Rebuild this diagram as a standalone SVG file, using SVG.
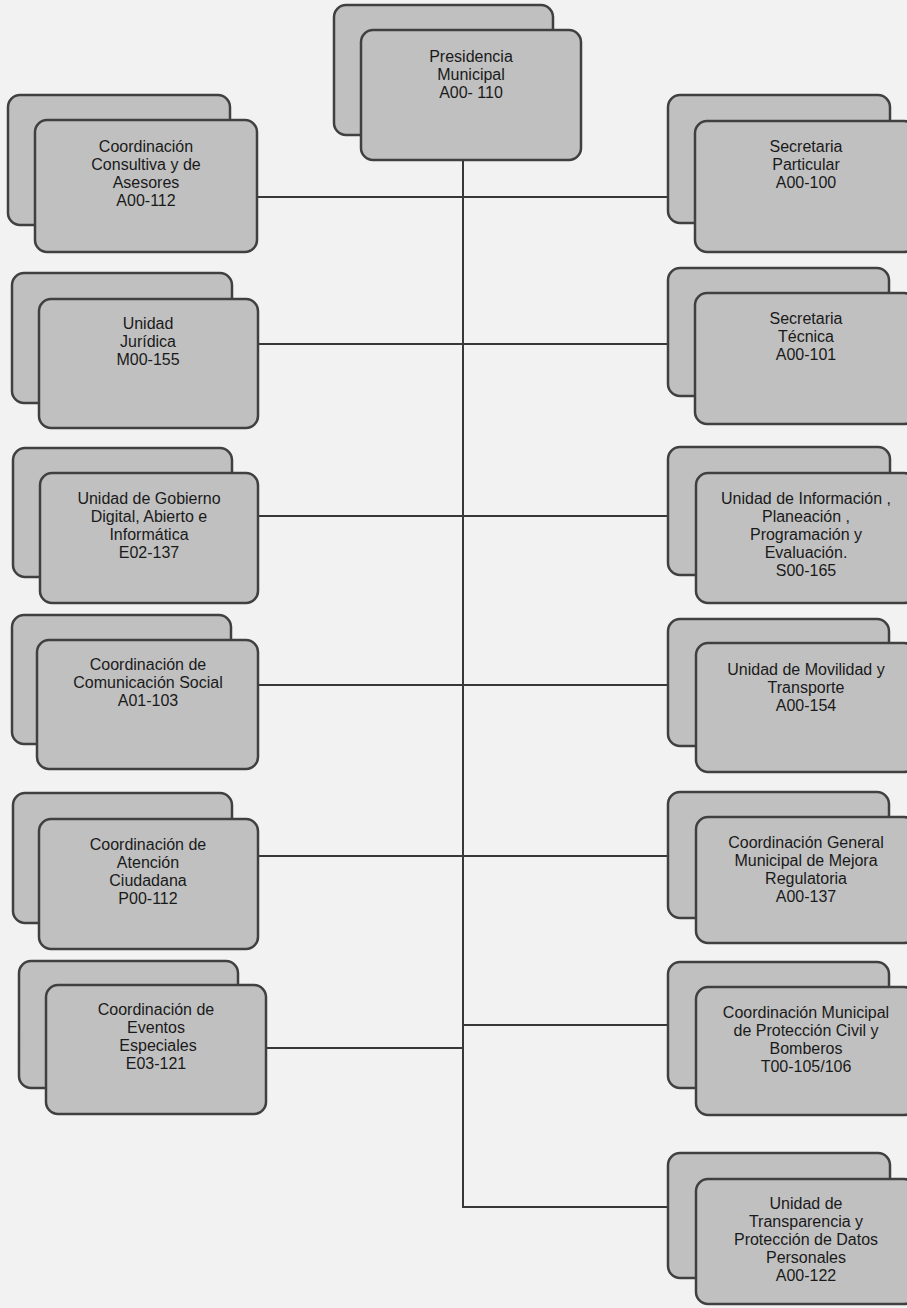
<svg xmlns="http://www.w3.org/2000/svg" width="907" height="1308" viewBox="0 0 907 1308">
<style>
.bg{fill:#f2f2f2}
.box{fill:#c0c0c0;stroke:#404040;stroke-width:2.5}
.ln{stroke:#383838;stroke-width:2;fill:none}
text{font-family:"Liberation Sans",Arial,sans-serif;font-size:16px;fill:#1a1a1a;text-anchor:middle}
</style>
<rect class="bg" x="0" y="0" width="907" height="1308"/>
<g id="connectors">
<path class="ln" d="M463,160 V1207 H668"/>
<path class="ln" d="M257,197 H668"/>
<path class="ln" d="M258,344 H668"/>
<path class="ln" d="M258,516 H668"/>
<path class="ln" d="M258,685 H668"/>
<path class="ln" d="M258,856 H668"/>
<path class="ln" d="M266,1048 H463"/>
<path class="ln" d="M463,1025 H668"/>
</g>
<g id="presidencia">
<rect class="box" x="334" y="5" width="219" height="130" rx="12"/>
<rect class="box" x="361" y="30" width="220" height="130" rx="12"/>
<text x="471" y="62">Presidencia</text><text x="471" y="80">Municipal</text><text x="471" y="98">A00- 110</text>
</g>
<g id="consultiva">
<rect class="box" x="8" y="95" width="222" height="130" rx="12"/>
<rect class="box" x="35" y="120" width="222" height="132" rx="12"/>
<text x="146" y="152">Coordinación</text><text x="146" y="170">Consultiva y de</text><text x="146" y="188">Asesores</text><text x="146" y="206">A00-112</text>
</g>
<g id="juridica">
<rect class="box" x="12" y="273" width="220" height="130" rx="12"/>
<rect class="box" x="39" y="299" width="219" height="129" rx="12"/>
<text x="148" y="329">Unidad</text><text x="148" y="347">Jurídica</text><text x="148" y="365">M00-155</text>
</g>
<g id="gobierno">
<rect class="box" x="13" y="448" width="219" height="129" rx="12"/>
<rect class="box" x="40" y="473" width="218" height="130" rx="12"/>
<text x="149" y="504">Unidad de Gobierno</text><text x="149" y="522">Digital, Abierto e</text><text x="149" y="540">Informática</text><text x="149" y="558">E02-137</text>
</g>
<g id="comunicacion">
<rect class="box" x="12" y="615" width="219" height="129" rx="12"/>
<rect class="box" x="37" y="640" width="221" height="129" rx="12"/>
<text x="148" y="670">Coordinación de</text><text x="148" y="688">Comunicación Social</text><text x="148" y="706">A01-103</text>
</g>
<g id="atencion">
<rect class="box" x="13" y="793" width="219" height="130" rx="12"/>
<rect class="box" x="39" y="819" width="219" height="130" rx="12"/>
<text x="148" y="850">Coordinación de</text><text x="148" y="868">Atención</text><text x="148" y="886">Ciudadana</text><text x="148" y="904">P00-112</text>
</g>
<g id="eventos">
<rect class="box" x="19" y="961" width="219" height="127" rx="12"/>
<rect class="box" x="46" y="985" width="220" height="129" rx="12"/>
<text x="156" y="1015">Coordinación de</text><text x="156" y="1033">Eventos</text><text x="158" y="1051">Especiales</text><text x="156" y="1069">E03-121</text>
</g>
<g id="particular">
<rect class="box" x="668" y="95" width="222" height="128" rx="12"/>
<rect class="box" x="695" y="121" width="221" height="131" rx="12"/>
<text x="806" y="152">Secretaria</text><text x="806" y="170">Particular</text><text x="806" y="188">A00-100</text>
</g>
<g id="tecnica">
<rect class="box" x="668" y="268" width="221" height="128" rx="12"/>
<rect class="box" x="695" y="293" width="221" height="131" rx="12"/>
<text x="806" y="324">Secretaria</text><text x="806" y="342">Técnica</text><text x="806" y="360">A00-101</text>
</g>
<g id="informacion">
<rect class="box" x="668" y="447" width="222" height="128" rx="12"/>
<rect class="box" x="696" y="473" width="220" height="130" rx="12"/>
<text x="806" y="504">Unidad de Información ,</text><text x="806" y="522">Planeación ,</text><text x="806" y="540">Programación y</text><text x="806" y="558">Evaluación.</text><text x="806" y="576">S00-165</text>
</g>
<g id="movilidad">
<rect class="box" x="668" y="619" width="221" height="127" rx="12"/>
<rect class="box" x="696" y="643" width="220" height="129" rx="12"/>
<text x="806" y="675">Unidad de Movilidad y</text><text x="806" y="693">Transporte</text><text x="806" y="711">A00-154</text>
</g>
<g id="mejora">
<rect class="box" x="668" y="792" width="221" height="126" rx="12"/>
<rect class="box" x="696" y="817" width="220" height="126" rx="12"/>
<text x="806" y="848">Coordinación General</text><text x="806" y="866">Municipal de Mejora</text><text x="806" y="884">Regulatoria</text><text x="806" y="902">A00-137</text>
</g>
<g id="proteccion">
<rect class="box" x="668" y="962" width="221" height="126" rx="12"/>
<rect class="box" x="696" y="987" width="220" height="128" rx="12"/>
<text x="806" y="1018">Coordinación Municipal</text><text x="806" y="1036">de Protección Civil y</text><text x="806" y="1054">Bomberos</text><text x="806" y="1072">T00-105/106</text>
</g>
<g id="transparencia">
<rect class="box" x="668" y="1153" width="222" height="125" rx="12"/>
<rect class="box" x="696" y="1179" width="220" height="125" rx="12"/>
<text x="806" y="1209">Unidad de</text><text x="806" y="1227">Transparencia y</text><text x="806" y="1245">Protección de Datos</text><text x="806" y="1263">Personales</text><text x="806" y="1281">A00-122</text>
</g>
</svg>
